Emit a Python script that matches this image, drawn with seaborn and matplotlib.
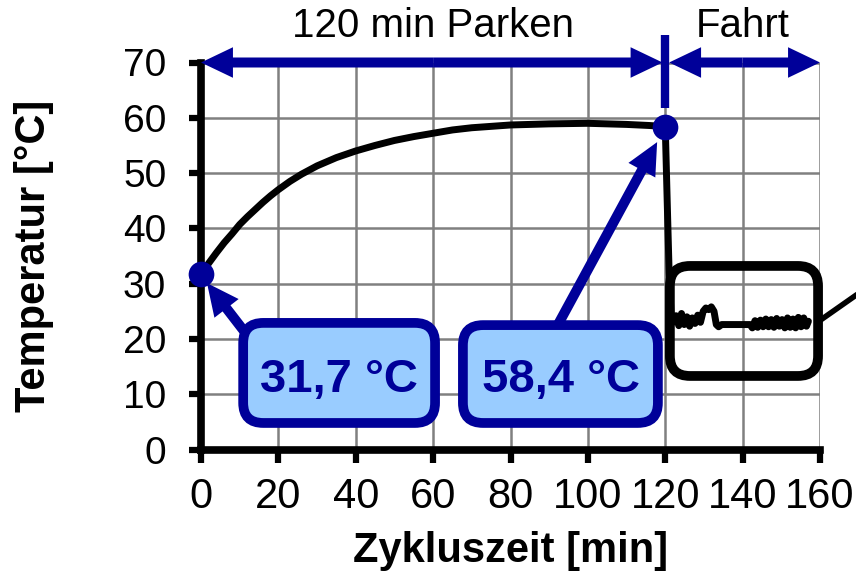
import matplotlib
matplotlib.use("Agg")
import numpy as np
import pandas as pd
import matplotlib.pyplot as plt
import seaborn as sns
from matplotlib.patches import FancyBboxPatch

# ---------------- data ----------------
park_time = [0, 2, 4, 6, 8, 10, 12, 14, 16, 18, 20, 23, 26, 30, 35, 40, 45,
             50, 55, 60, 65, 70, 80, 90, 100, 110, 116, 120]
park_temp = [31.7, 33.7, 35.6, 37.4, 39.0, 40.7, 42.1, 43.4, 44.7, 45.9, 47.0,
             48.5, 49.8, 51.3, 52.8, 54.0, 55.0, 55.9, 56.6, 57.2, 57.8, 58.2,
             58.7, 58.9, 59.0, 58.8, 58.6, 58.4]
drive_time = [120.5, 121.0, 121.5, 122.0, 122.8, 123.5, 124.2, 124.9, 125.6,
              126.3, 127.0, 127.7, 128.4, 129.1, 129.8, 130.5, 131.2, 131.9,
              132.6, 133.2, 133.8, 134.6, 141.9, 142.5, 143.2, 143.9, 144.6,
              145.3, 146.0, 146.7, 147.4, 148.1, 148.8, 149.5, 150.2, 150.9,
              151.6, 152.3, 153.0, 153.7, 154.4, 155.1, 155.8, 156.5, 157.0]
drive_temp = [45.0, 32.0, 24.5, 23.0, 24.2, 22.4, 24.6, 22.6, 24.0, 22.3, 23.8,
              22.8, 24.3, 23.0, 25.0, 25.6, 25.3, 25.8, 25.0, 22.6, 22.2, 22.6,
              22.6, 22.0, 23.3, 22.1, 23.4, 22.2, 23.6, 22.2, 23.5, 22.1, 23.7,
              22.3, 23.5, 22.0, 23.8, 22.1, 23.6, 22.0, 23.9, 22.2, 23.8, 22.3,
              23.2]
marker_time = [0, 120]
marker_temp = [31.7, 58.4]
marker_labels = ["31,7 °C", "58,4 °C"]
phase_labels = ["120 min Parken", "Fahrt"]
x_ticks = [0, 20, 40, 60, 80, 100, 120, 140, 160]
y_ticks = [0, 10, 20, 30, 40, 50, 60, 70]

df = pd.DataFrame({"Zeit": park_time + drive_time,
                   "Temperatur": park_temp + drive_temp})

navy = "#000099"
light = "#99CCFF"

sns.set_theme(style="white")
plt.rcParams["font.family"] = ["Liberation Sans", "DejaVu Sans"]

fig = plt.figure(figsize=(8.56, 5.73), dpi=100)
ax = fig.add_axes([201 / 856, 123.5 / 573, 619 / 856, 387 / 573])

ax.set_xlim(0, 160)
ax.set_ylim(0, 70)
ax.set_xticks(x_ticks)
ax.set_yticks(y_ticks)
ax.grid(True, color="#808080", lw=1.8)
ax.set_axisbelow(True)

for s in ["top", "right"]:
    ax.spines[s].set_visible(False)
for s in ["left", "bottom"]:
    ax.spines[s].set_linewidth(5.5)
    ax.spines[s].set_color("black")

ax.tick_params(axis="both", direction="out", color="black", width=4.5,
               length=9, left=True, bottom=True, labelcolor="black")
ax.tick_params(axis="y", labelsize=28, pad=16)
ax.tick_params(axis="x", labelsize=30, pad=10.5)

# main temperature trace
sns.lineplot(data=df, x="Zeit", y="Temperatur", ax=ax, color="black", lw=5,
             estimator=None, sort=False, zorder=3)

# callout line leaving the black box
ax.plot([159.5, 175], [23.1, 30.7], color="black", lw=4, clip_on=False, zorder=3)

# black rounded box around Fahrt data
ax.add_patch(FancyBboxPatch((121.2, 13.3), 38.3, 19.9,
                            boxstyle="round,pad=0,rounding_size=5.2",
                            mutation_aspect=0.70, fc="none", ec="black",
                            lw=7, zorder=4, clip_on=False))


def arrow(tail, tip, z=5):
    ax.annotate("", xy=tip, xytext=tail,
                arrowprops=dict(arrowstyle="simple,head_length=2.3,head_width=2.2,tail_width=0.72",
                                mutation_scale=10, color=navy, lw=0,
                                shrinkA=0, shrinkB=0),
                annotation_clip=False, zorder=z)


# top phase arrows
arrow((60, 70), (0, 70))
arrow((60, 70), (119.3, 70))
arrow((140, 70), (121.0, 70))
arrow((140, 70), (160, 70))
ax.plot([120, 120], [61.7, 75.0], color=navy, lw=6, clip_on=False,
        solid_capstyle="butt", zorder=5)
ax.text(60, 74.6, phase_labels[0], ha="center", va="baseline", fontsize=29,
        color="black")
ax.text(140, 74.6, phase_labels[1], ha="center", va="baseline", fontsize=29,
        color="black")

# callout arrows
arrow((12.7, 20.0), (1.55, 30.1))
arrow((91.5, 21.6), (117.9, 55.6))

# markers
sns.scatterplot(x=marker_time, y=marker_temp, ax=ax, s=342, color=navy,
                edgecolor=navy, linewidth=0, zorder=6, clip_on=False)

# label boxes
boxes = [(10.9, 4.8, 49.6, 18.1), (67.7, 4.8, 50.4, 17.7)]
text_x = [35.7, 93.1]
for (bx, by, bw, bh), tx, lab in zip(boxes, text_x, marker_labels):
    ax.add_patch(FancyBboxPatch((bx, by), bw, bh,
                                boxstyle="round,pad=0,rounding_size=5.2",
                                mutation_aspect=0.70, fc=light, ec=navy,
                                lw=7, zorder=7, clip_on=False))
    ax.text(tx, 10.45, lab, ha="center", va="baseline", fontsize=34,
            fontweight="bold", color=navy, zorder=8)

ax.set_xlabel("Zykluszeit [min]", fontsize=30, fontweight="bold", color="black")
ax.set_ylabel("Temperatur [°C]", fontsize=30, fontweight="bold", color="black")
ax.xaxis.set_label_coords(0.5, -0.2106)
ax.yaxis.set_label_coords(-0.2375, 0.5)

fig.savefig("out.png", dpi=100)
